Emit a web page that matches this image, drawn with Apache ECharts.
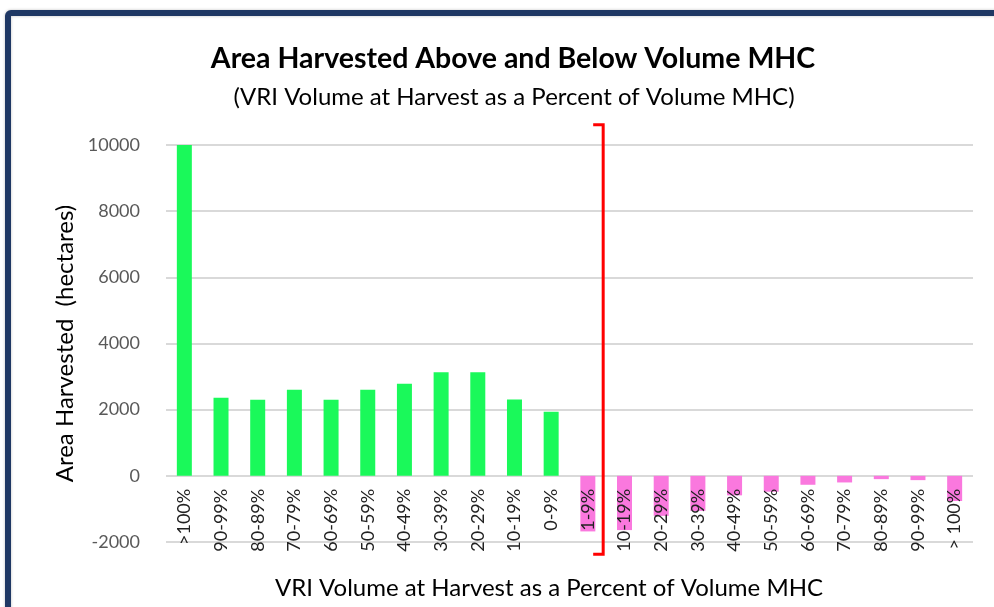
<!DOCTYPE html>
<html><head><meta charset="utf-8">
<script src="https://cdn.jsdelivr.net/npm/echarts@6/dist/echarts.min.js"></script>
<style>html,body{margin:0;padding:0;background:#fff}#c{width:994px;height:607px}</style>
</head><body><div id="c"></div>
<script>
const categories = [">100%","90-99%","80-89%","70-79%","60-69%","50-59%","40-49%","30-39%","20-29%","10-19%","0-9%",
  "1-9%","10-19%","20-29%","30-39%","40-49%","50-59%","60-69%","70-79%","80-89%","90-99%","> 100%"];
const aboveValues = [10000,2360,2300,2600,2300,2600,2780,3130,3130,2310,1940,null,null,null,null,null,null,null,null,null,null,null];
const belowValues = [null,null,null,null,null,null,null,null,null,null,null,-1680,-1640,-1210,-1060,-590,-480,-270,-200,-100,-130,-760];
const yTicks = {min:-2000,max:10000,interval:2000};

const FONT = 'Lato';
const chart = echarts.init(document.getElementById('c'));
const baseOption = {
  animation:false,
  backgroundColor:'#fff',
  title:[
    {text:'Area Harvested Above and Below Volume MHC',left:508,top:39,textAlign:'center',
     textStyle:{fontFamily:FONT,fontWeight:'bold',fontSize:28.5,color:'#000'}},
    {text:'(VRI Volume at Harvest as a Percent of Volume MHC)',left:509,top:80,textAlign:'center',
     textStyle:{fontFamily:FONT,fontWeight:'normal',fontSize:24,color:'#000'}},
    {text:'VRI Volume at Harvest as a Percent of Volume MHC',left:544,top:571,textAlign:'center',
     textStyle:{fontFamily:FONT,fontWeight:'normal',fontSize:24,color:'#000'}}
  ],
  grid:{left:166,right:21,top:145,bottom:65,containLabel:false},
  xAxis:{type:'category',data:categories,offset:0,z:10,
    axisLine:{show:false,onZero:false},
    axisTick:{show:false},
    axisLabel:{rotate:90,interval:0,margin:11,fontFamily:FONT,fontSize:18,color:'#222'}},
  yAxis:{type:'value',min:yTicks.min,max:yTicks.max,interval:yTicks.interval,
    name:'Area Harvested  (hectares)',nameLocation:'middle',nameGap:88,
    nameTextStyle:{fontFamily:FONT,fontSize:24,color:'#000'},
    axisLine:{show:false},axisTick:{show:false},
    splitLine:{lineStyle:{color:'#d9d9d9',width:2}},
    axisLabel:{margin:26,fontFamily:FONT,fontSize:18,color:'#595959',formatter:v=>String(v)}},
  series:[
    {type:'bar',stack:'s',data:aboveValues,barWidth:15,itemStyle:{color:'#1AF95A'}},
    {type:'bar',stack:'s',data:belowValues,barWidth:15,itemStyle:{color:'#FA78DE'}}
  ]
};
chart.setOption(baseOption);
// move the category axis up so its labels hang from the zero line
const yZero = chart.convertToPixel({yAxisIndex:0},0);
const yMin = chart.convertToPixel({yAxisIndex:0},yTicks.min);
chart.setOption({xAxis:{offset:-(yMin-yZero)}});
// bracket annotation between "1-9%" and "10-19%" (below-MHC side)
const xa = chart.convertToPixel({xAxisIndex:0},11);
const xb = chart.convertToPixel({xAxisIndex:0},12);
const bx = (xa+xb)/2 - 3;
const yTop = chart.convertToPixel({yAxisIndex:0},10610);
const yBot = chart.convertToPixel({yAxisIndex:0},-2370);
chart.setOption({graphic:[
  {type:'polyline',shape:{points:[[bx-10,yTop],[bx,yTop],[bx,yBot],[bx-10,yBot]]},
   style:{stroke:'#ff0000',lineWidth:3,fill:null},z:100},
  {type:'rect',shape:{x:8,y:13,width:1100,height:700,r:3},
   style:{stroke:'#1F3864',lineWidth:6,fill:null,shadowColor:'rgba(0,0,0,0.25)',shadowBlur:3},z:100}
]});
</script></body></html>
